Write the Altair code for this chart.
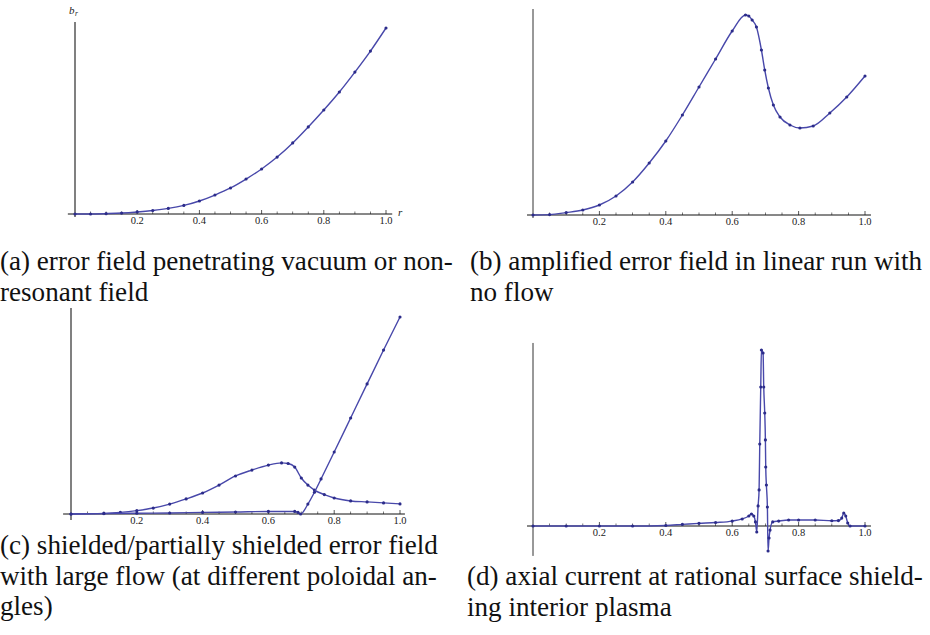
import altair as alt
import pandas as pd

# ---------------- data (arbitrary units) -------------
# (a) error field penetrating vacuum
r_a = [0, 0.05, 0.1, 0.15, 0.2, 0.25, 0.3, 0.35, 0.4, 0.45, 0.5, 0.55, 0.6, 0.65,
       0.7, 0.75, 0.8, 0.85, 0.9, 0.95, 1.0]
b_a = [0, 0, 0.002, 0.005, 0.011, 0.019, 0.030, 0.046, 0.070, 0.102, 0.140, 0.188,
       0.242, 0.306, 0.382, 0.468, 0.559, 0.656, 0.763, 0.876, 1.0]

# (b) amplified error field, linear run, no flow
r_b = [0, 0.05, 0.1, 0.15, 0.2, 0.25, 0.3, 0.35, 0.4, 0.45, 0.5, 0.55, 0.6, 0.64,
       0.65, 0.66, 0.673, 0.688, 0.698, 0.709, 0.724, 0.744, 0.774, 0.804, 0.844,
       0.894, 0.945, 1.0]
b_b = [0, 0.002, 0.012, 0.025, 0.05, 0.095, 0.165, 0.26, 0.37, 0.5, 0.64, 0.78, 0.92,
       1.0, 0.995, 0.975, 0.94, 0.825, 0.725, 0.635, 0.55, 0.49, 0.45, 0.435, 0.445,
       0.51, 0.59, 0.695]

# (c) shielded / partially shielded error field, two poloidal angles
r_c1 = [0, 0.1, 0.15, 0.2, 0.25, 0.3, 0.35, 0.4, 0.45, 0.5, 0.55, 0.6, 0.64, 0.66,
        0.68, 0.7, 0.72, 0.74, 0.77, 0.8, 0.85, 0.9, 0.95, 1.0]
b_c1 = [0, 0.003, 0.008, 0.017, 0.03, 0.05, 0.076, 0.106, 0.146, 0.192, 0.222,
        0.247, 0.258, 0.255, 0.237, 0.182, 0.146, 0.121, 0.098, 0.081, 0.066, 0.061,
        0.056, 0.051]
r_c2 = [0, 0.1, 0.2, 0.3, 0.4, 0.5, 0.6, 0.68, 0.69, 0.698, 0.72, 0.74, 0.76, 0.8,
        0.85, 0.9, 0.95, 1.0]
b_c2 = [0, 0.002, 0.004, 0.005, 0.008, 0.01, 0.013, 0.013, 0.008, 0.0, 0.05, 0.11,
        0.177, 0.313, 0.485, 0.657, 0.828, 0.995]

# (d) axial current at the rational surface
r_d = [0, 0.1, 0.2, 0.3, 0.4, 0.45, 0.5, 0.55, 0.6, 0.63, 0.65, 0.658, 0.665, 0.67,
       0.674, 0.678, 0.681, 0.683, 0.686, 0.688, 0.693, 0.695, 0.698, 0.7, 0.701,
       0.703, 0.706, 0.708, 0.711, 0.714, 0.722, 0.74, 0.77, 0.8, 0.85, 0.9, 0.92,
       0.93, 0.936, 0.942, 0.948, 0.955, 1.0]
j_d = [0, 0, 0, 0, 0.003, 0.009, 0.015, 0.02, 0.028, 0.04, 0.057, 0.068, 0.057,
       0.023, -0.034, 0.114, 0.205, 0.466, 0.79, 1.0, 0.983, 0.79, 0.642, 0.489,
       0.335, 0.233, 0.108, -0.142, -0.068, -0.023, 0.023, 0.028, 0.034, 0.034,
       0.034, 0.030, 0.031, 0.045, 0.074, 0.057, 0.017, 0.0, 0.0]

tick_labels = ["0.2", "0.4", "0.6", "0.8", "1.0"]
major_ticks = [0.2, 0.4, 0.6, 0.8, 1.0]
minor_ticks = [0.05, 0.1, 0.15, 0.25, 0.3, 0.35, 0.45, 0.5, 0.55, 0.65, 0.7, 0.75,
               0.85, 0.9, 0.95]

captions = {
    "a": ["(a) error field penetrating vacuum or non-", "resonant field"],
    "b": ["(b) amplified error field in linear run with", "no flow"],
    "c": ["(c) shielded/partially shielded error field",
          "with large flow (at different poloidal an-", "gles)"],
    "d": ["(d) axial current at rational surface shield-", "ing interior plasma"],
}

# ---------------- styling ----------------
SERIF = "Liberation Serif, Times New Roman, DejaVu Serif, serif"
LINE_C = "#4848aa"
DOT_C = "#2c2c8a"


def panel(curves, X0, XS, Y0, YS, xl, xr, yb, yt, yaxis_color, yaxis_w):
    """curves: list of (r, v); X0/Y0 pixel of origin, XS/YS pixels per unit."""
    xdom = [-0.1, 1.1]
    ydom = [-0.3, 1.3]
    xs = alt.Scale(domain=xdom, range=[X0 + xdom[0] * XS, X0 + xdom[1] * XS],
                   nice=False, zero=False)
    ys = alt.Scale(domain=ydom, range=[Y0 - ydom[0] * YS, Y0 - ydom[1] * YS],
                   nice=False, zero=False)
    X = lambda f: alt.X(f, type="quantitative", scale=xs, axis=None)
    Y = lambda f: alt.Y(f, type="quantitative", scale=ys, axis=None)

    layers = []
    # axes
    xax = pd.DataFrame({"r": [xl], "r2": [xr], "v": [0.0]})
    layers.append(alt.Chart(xax).mark_rule(color="#111", strokeWidth=1).encode(
        x=X("r"), x2="r2", y=Y("v")))
    yax = pd.DataFrame({"r": [0.0], "v": [yb], "v2": [yt]})
    layers.append(alt.Chart(yax).mark_rule(color=yaxis_color, strokeWidth=yaxis_w).encode(
        x=X("r"), y=Y("v"), y2="v2"))
    # ticks (drawn above the axis)
    mj = pd.DataFrame({"r": major_ticks, "v": [0.0] * len(major_ticks), "lab": tick_labels})
    mn = pd.DataFrame({"r": minor_ticks, "v": [0.0] * len(minor_ticks)})
    layers.append(alt.Chart(mj).mark_tick(orient="vertical", size=4, yOffset=-2,
                                          thickness=1, color="#111").encode(x=X("r"), y=Y("v")))
    layers.append(alt.Chart(mn).mark_tick(orient="vertical", size=2.5, yOffset=-1.25,
                                          thickness=0.8, color="#111").encode(x=X("r"), y=Y("v")))
    layers.append(alt.Chart(mj).mark_text(font=SERIF, fontSize=10.5, color="#222",
                                          baseline="top", dy=2).encode(
        x=X("r"), y=Y("v"), text="lab:N"))
    # curves
    for r, v in curves:
        df = pd.DataFrame({"r": r, "v": v})
        layers.append(alt.Chart(df).mark_line(color=LINE_C, strokeWidth=1.4,
                                              interpolate="monotone").encode(
            x=X("r"), y=Y("v"), order="r:Q"))
        layers.append(alt.Chart(df).mark_circle(color=DOT_C, size=10, opacity=1).encode(
            x=X("r"), y=Y("v")))
    return alt.layer(*layers)


pa = panel([(r_a, b_a)], 75, 311, 214, 186, -0.023, 1.02, -0.016, 1.032, "#808080", 2)
pb = panel([(r_b, b_b)], 533, 332, 215, 200, -0.018, 1.018, -0.015, 1.03, "#333", 1)
pc = panel([(r_c1, b_c1), (r_c2, b_c2)], 71, 329, 514, 198, -0.024, 1.015, -0.03, 1.04,
           "#808080", 2)
pd_ = panel([(r_d, j_d)], 533, 332, 526, 176, -0.018, 1.018, -0.17, 1.04, "#333", 1)

one = pd.DataFrame({"k": [0]})


def label(txt, x, y, size, italic=True):
    return alt.Chart(one).mark_text(text=txt, font=SERIF, fontSize=size,
                                    fontStyle="italic" if italic else "normal",
                                    align="left", baseline="alphabetic",
                                    color="#222").encode(x=alt.value(x), y=alt.value(y))


axis_labels = [label("b", 69, 14, 11), label("r", 75, 16, 7.5), label("r", 398, 216, 11)]


def caption(lines, x, y):
    return alt.Chart(one).mark_text(text=lines, font=SERIF, fontSize=27.1, lineHeight=30.5,
                                    align="left", baseline="alphabetic",
                                    color="#111").encode(x=alt.value(x), y=alt.value(y))


caps = [caption(captions["a"], 0, 270), caption(captions["b"], 470, 270),
        caption(captions["c"], 0, 554), caption(captions["d"], 467, 585)]

chart = alt.layer(pa, pb, pc, pd_, *axis_labels, *caps).resolve_scale(
    x="independent", y="independent").properties(
    width=930, height=635, autosize="none", padding=0).configure_view(stroke=None)

chart.save("out.html", embed_options={"renderer": "svg", "actions": False})
